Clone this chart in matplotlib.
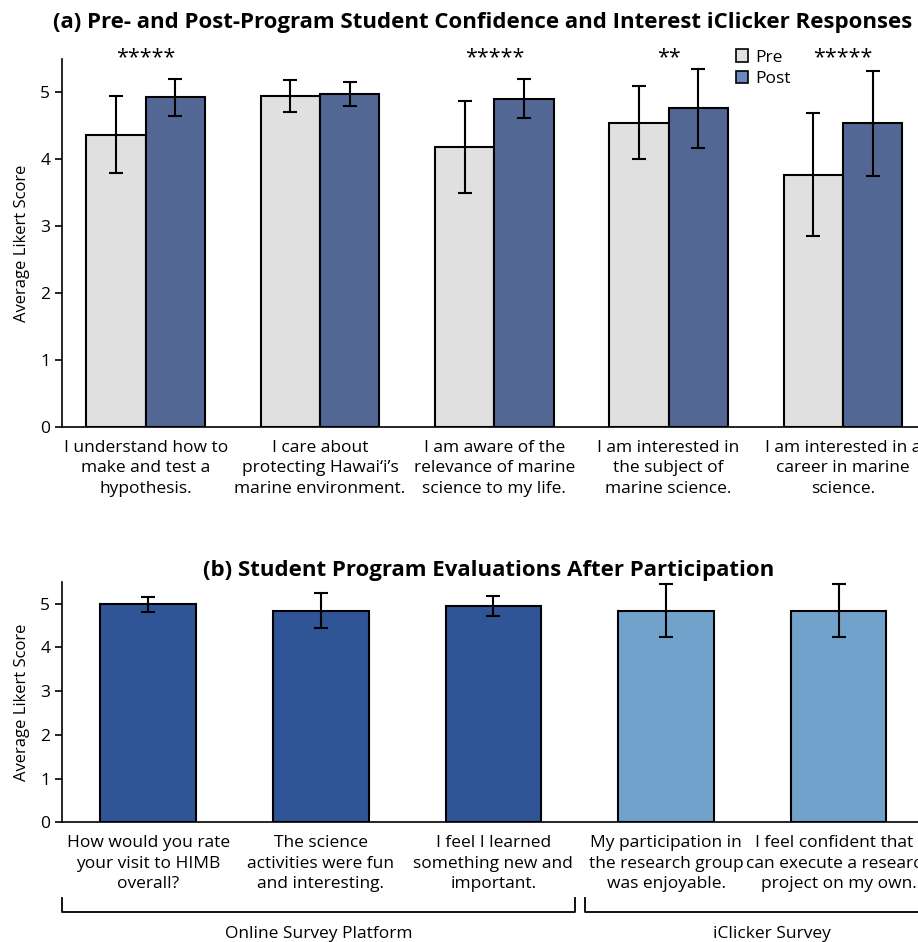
import matplotlib
matplotlib.use("Agg")
import matplotlib.pyplot as plt
from matplotlib.patches import Patch
import numpy as np

plt.rcParams['font.family'] = ['Open Sans', 'DejaVu Sans']

# panel (a) data
a_labels = ["I understand how to\nmake and test a\nhypothesis.",
            "I care about\nprotecting Hawai\u2018i\u2019s\nmarine environment.",
            "I am aware of the\nrelevance of marine\nscience to my life.",
            "I am interested in\nthe subject of\nmarine science.",
            "I am interested in a\ncareer in marine\nscience."]
pre_mean = [4.37, 4.945, 4.18, 4.55, 3.77]
pre_err = [0.57, 0.235, 0.69, 0.545, 0.92]
post_mean = [4.925, 4.97, 4.905, 4.76, 4.54]
post_err = [0.27, 0.18, 0.29, 0.585, 0.785]
stars = ["*****", "", "*****", "**", "*****"]

# panel (b) data
b_labels = ["How would you rate\nyour visit to HIMB\noverall?",
            "The science\nactivities were fun\nand interesting.",
            "I feel I learned\nsomething new and\nimportant.",
            "My participation in\nthe research group\nwas enjoyable.",
            "I feel confident that I\ncan execute a research\nproject on my own."]
b_mean = [4.98, 4.84, 4.945, 4.84, 4.84]
b_err = [0.18, 0.41, 0.235, 0.61, 0.61]
b_source = ["online", "online", "online", "iclicker", "iclicker"]
groups = ["Online Survey Platform", "iClicker Survey"]

pre_color = "#e0e0e0"
post_color = "#536794"
post_legend = "#6b89be"
b_colors = {"online": "#2f5597", "iclicker": "#70a2cc"}

fig = plt.figure(figsize=(9.18, 9.42), dpi=100)
ax1 = fig.add_axes([0.0675, 0.5467, 0.94, 0.3907])
ax2 = fig.add_axes([0.0675, 0.1271, 0.94, 0.2554])

def style(ax):
    ax.spines['top'].set_visible(False)
    ax.spines['right'].set_visible(False)
    ax.spines['left'].set_linewidth(1.2)
    ax.spines['bottom'].set_linewidth(1.2)
    ax.set_ylim(0, 5.5)
    ax.set_yticks([0, 1, 2, 3, 4, 5])
    ax.tick_params(axis='y', labelsize=12.5, length=5, width=1.2)
    ax.tick_params(axis='x', length=0, labelsize=12.5, pad=9)
    ax.set_ylabel("Average Likert Score", fontsize=12, labelpad=7)

x = np.arange(len(a_labels))
w = 0.34
ekw = dict(elinewidth=1.5, capthick=1.5)
ax1.bar(x - w / 2, pre_mean, w, color=pre_color, edgecolor='black', linewidth=1.5,
        yerr=pre_err, capsize=5, error_kw=ekw)
ax1.bar(x + w / 2, post_mean, w, color=post_color, edgecolor='black', linewidth=1.5,
        yerr=post_err, capsize=5, error_kw=ekw)
for i, s in enumerate(stars):
    if s:
        ax1.text(x[i], 5.52, s, ha='center', va='center', fontsize=15.5)
style(ax1)
ax1.set_xlim(-0.48, 4.47)
ax1.set_xticks(x)
ax1.set_xticklabels(a_labels, linespacing=1.4)
ax1.set_title("(a) Pre- and Post-Program Student Confidence and Interest iClicker Responses",
              fontsize=16, fontweight='bold', pad=22, x=0.488)
handles = [Patch(facecolor=pre_color, edgecolor='black', linewidth=1.2),
           Patch(facecolor=post_legend, edgecolor='black', linewidth=1.2)]
ax1.legend(handles, ["Pre", "Post"], loc='upper left', bbox_to_anchor=(0.773, 1.045),
           frameon=False, fontsize=12.5, handlelength=0.7, handleheight=0.7,
           handletextpad=0.4, labelspacing=0.3, borderaxespad=0)

xb = np.arange(len(b_labels))
ax2.bar(xb, b_mean, 0.555, color=[b_colors[s] for s in b_source], edgecolor='black',
        linewidth=1.5, yerr=b_err, capsize=5, error_kw=ekw)
style(ax2)
ax2.set_xlim(-0.5, 4.5)
ax2.set_xticks(xb)
ax2.set_xticklabels(b_labels, linespacing=1.4)
ax2.set_title("(b) Student Program Evaluations After Participation",
              fontsize=16, fontweight='bold', pad=4, x=0.495)

# brackets under panel (b)
tr = ax2.get_xaxis_transform()
brackets = [(-0.5, 2.475), (2.53, 4.7)]
for (x0, x1), name in zip(brackets, groups):
    ax2.plot([x0, x0, x1, x1], [-0.313, -0.372, -0.372, -0.313], color='black',
             linewidth=1.3, transform=tr, clip_on=False)
    ax2.text((x0 + x1) / 2, -0.43, name, transform=tr, ha='center', va='top',
             fontsize=12.5)

fig.savefig("out.png", dpi=100)
